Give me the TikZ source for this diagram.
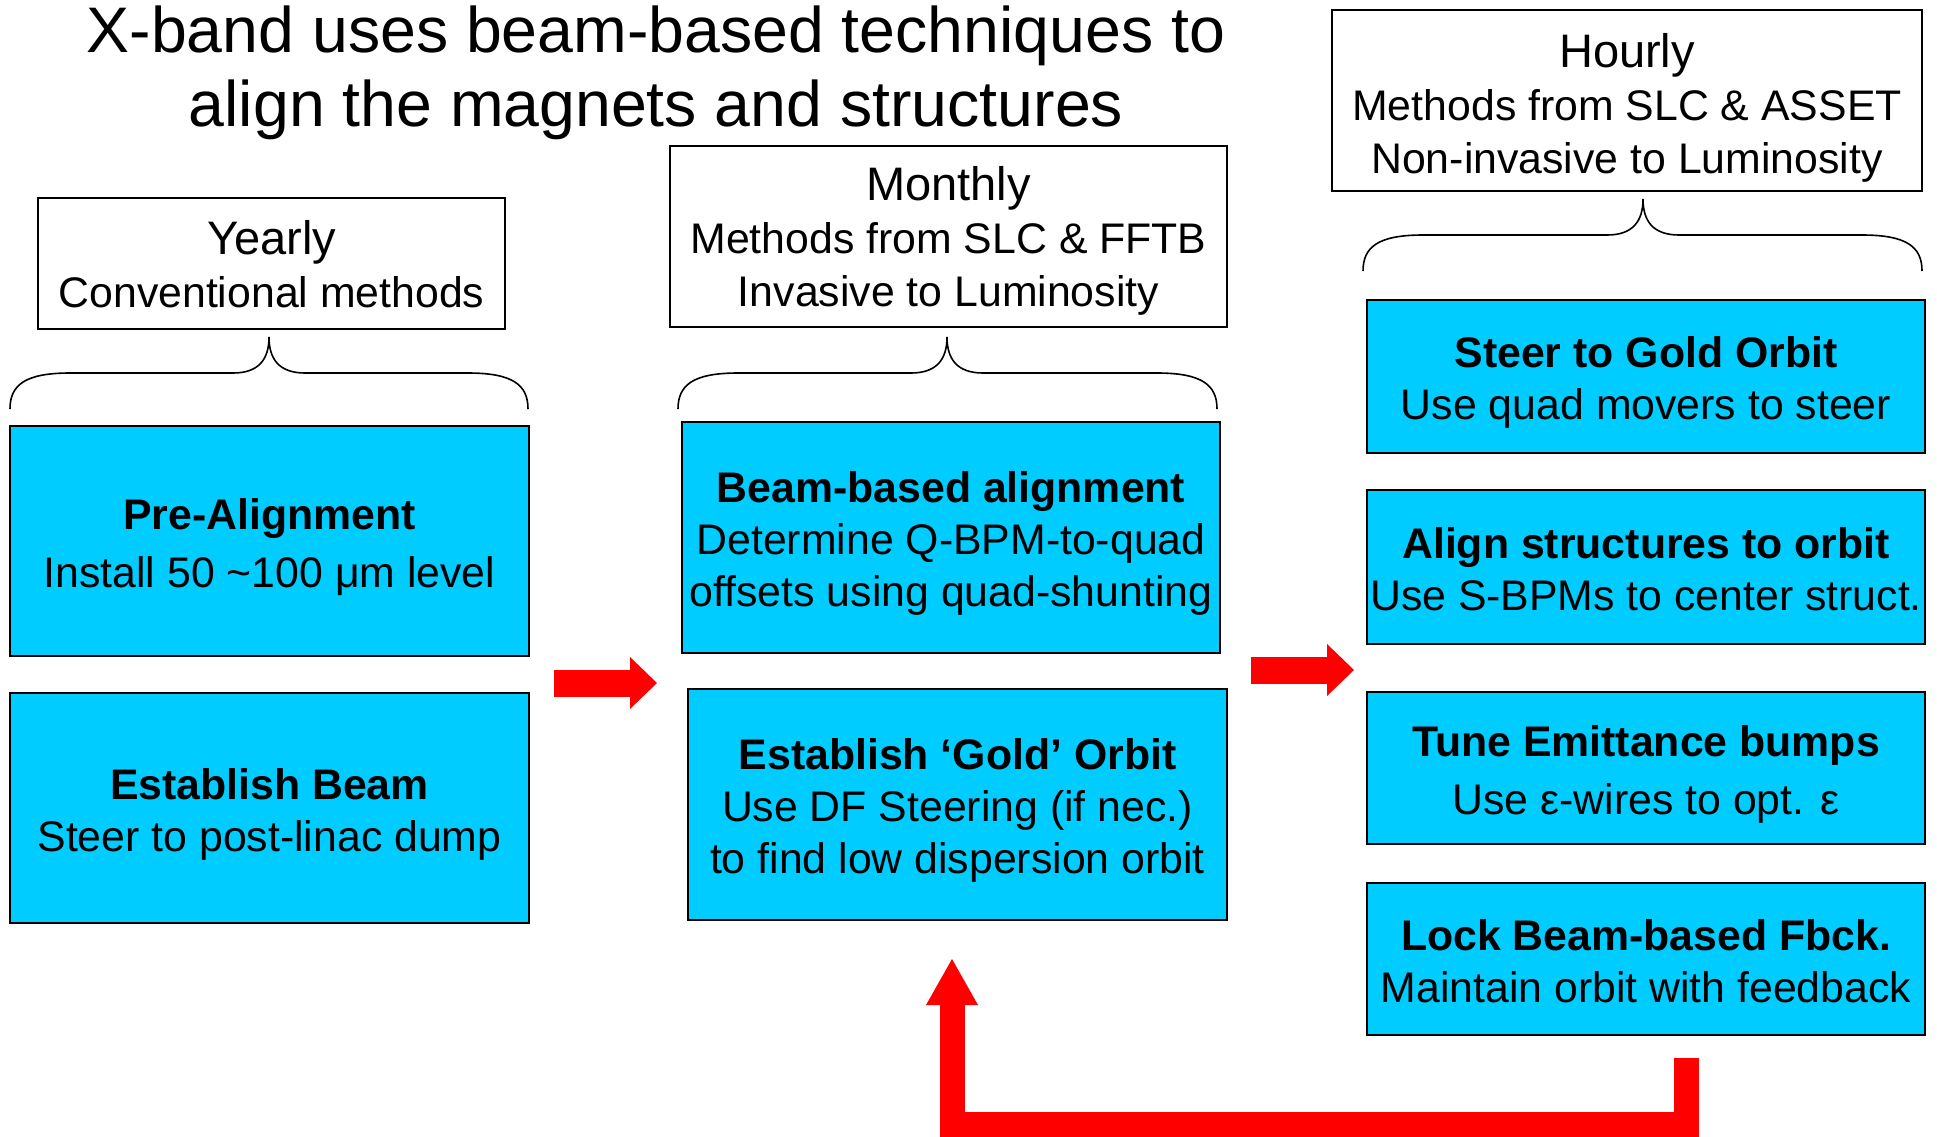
\documentclass[tikz,border=0pt]{standalone}
\usepackage{fontspec}
\setmainfont{Liberation Sans}
\usetikzlibrary{arrows.meta,positioning}

\definecolor{boxblue}{RGB}{0,204,255}
\definecolor{arrowred}{RGB}{255,0,0}

% centred lines, set a bit low as in the slide
\newcommand{\boxlines}[2][3.3pt]{\raisebox{-#1}[\height][\depth]{\begin{tabular}{@{}c@{}}#2\end{tabular}}}

\tikzset{
  stagebox/.style={draw=black, line width=1pt, fill=boxblue, inner sep=0pt,
    font=\fontsize{21.4}{26}\selectfont},
  headbox/.style={draw=black, line width=0.8pt, fill=white, inner sep=0pt,
    font=\fontsize{21.4}{26.5}\selectfont},
  bracestyle/.style={line width=0.8pt, black},
  blockarrow/.style={line width=13.5pt, arrowred, -{Triangle[length=13.5pt,width=26pt,line width=0pt]}},
  fbarrow/.style={line width=12.5pt, arrowred, -{Triangle[length=23pt,width=26pt,line width=0pt]}},
}

\begin{document}
\begin{tikzpicture}[x=0.5pt,y=-0.5pt]
    \fill[white] (0,0) rectangle (1937,1136);
    \useasboundingbox (0,0) rectangle (1937,1136);

    % title
    \node[align=center, font=\fontsize{32.2}{37}\selectfont] (title) at (656,73)
        {X-band uses beam-based techniques to\\align the magnets and structures};

    % headers
    \node[headbox, minimum width=233.5pt, minimum height=65.5pt] (yearly) at (271.5,263.5)
        {\boxlines{{\fontsize{23.5}{26.5}\selectfont Yearly}\\Conventional methods}};
    \node[headbox, minimum width=278.5pt, minimum height=90.5pt] (monthly) at (948.5,236.5)
        {\boxlines{{\fontsize{23.5}{26.5}\selectfont Monthly}\\Methods from SLC \& FFTB\\Invasive to Luminosity}};
    \node[headbox, minimum width=295pt, minimum height=90.5pt] (hourly) at (1627,100.5)
        {\boxlines[4.5pt]{{\fontsize{23.5}{26.5}\selectfont Hourly}\\Methods from SLC \& ASSET\\Non-invasive to Luminosity}};

    % braces
    \foreach \xa/\xc/\xb/\yt in {10/269/528/337, 678/947/1217/337, 1363/1643/1922/199}
        \draw[bracestyle] (\xa,\yt+72) .. controls (\xa,\yt+48) and (\xa+15,\yt+36) .. (\xa+60,\yt+36)
            -- (\xc-36,\yt+36) .. controls (\xc-10,\yt+36) and (\xc,\yt+22) .. (\xc,\yt)
            .. controls (\xc,\yt+22) and (\xc+10,\yt+36) .. (\xc+36,\yt+36)
            -- (\xb-60,\yt+36) .. controls (\xb-15,\yt+36) and (\xb,\yt+48) .. (\xb,\yt+72);

    % yearly column
    \node[stagebox, minimum width=259.5pt, minimum height=115pt] (prealign) at (269.5,541)
        {\boxlines{\textbf{Pre-Alignment}\\[3pt]Install 50 \textasciitilde100 μm level}};
    \node[stagebox, minimum width=259.5pt, minimum height=115pt] (estbeam) at (269.5,808)
        {\boxlines{\textbf{Establish Beam}\\Steer to post-linac dump}};

    % monthly column
    \node[stagebox, minimum width=269pt, minimum height=115.5pt] (bba) at (951,537.5)
        {\boxlines{\textbf{Beam-based alignment}\\Determine Q-BPM-to-quad\\offsets using quad-shunting}};
    \node[stagebox, minimum width=269.5pt, minimum height=115.5pt] (goldorb) at (957.5,804.5)
        {\boxlines{\textbf{Establish ‘Gold’ Orbit}\\Use DF Steering (if nec.)\\to find low dispersion orbit}};

    % hourly column
    \node[stagebox, minimum width=279pt, minimum height=76.5pt] (steer) at (1646,376.5)
        {\boxlines{\textbf{Steer to Gold Orbit}\\Use quad movers to steer}};
    \node[stagebox, minimum width=279pt, minimum height=77pt] (alignstr) at (1646,567)
        {\boxlines{\textbf{Align structures to orbit}\\Use S-BPMs to center struct.}};
    \node[stagebox, minimum width=279pt, minimum height=76pt] (tune) at (1646,768)
        {\boxlines{\textbf{Tune Emittance bumps}\\[3pt]Use ε-wires to opt. ε}};
    \node[stagebox, minimum width=279pt, minimum height=76pt] (lock) at (1646,959)
        {\boxlines{\textbf{Lock Beam-based Fbck.}\\Maintain orbit with feedback}};

    % red arrows
    \coordinate (ya) at (554,683);
    \coordinate (mo) at (657,683);
    \draw[blockarrow] (ya) -- (mo);

    \coordinate (mb) at (1251,670);
    \coordinate (ho) at (1354,670);
    \draw[blockarrow] (mb) -- (ho);

    % feedback loop
    \coordinate (fbstart) at (1686,1058);
    \coordinate (fbend) at (952,959);
    \draw[fbarrow] (fbstart) -- (1686,1124) -| (fbend);
\end{tikzpicture}
\end{document}
